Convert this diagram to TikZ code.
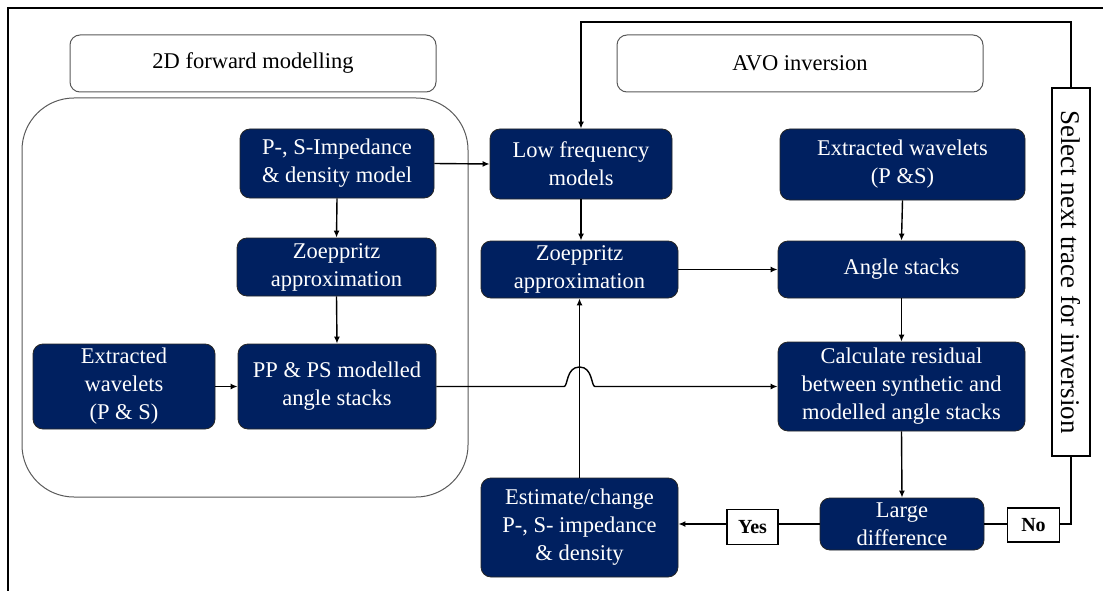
\documentclass[tikz,border=0pt]{standalone}
\usepackage{fontspec}
\setmainfont{Liberation Serif}
\usetikzlibrary{arrows.meta}
\definecolor{navy}{RGB}{0,32,96}
\begin{document}
\begin{tikzpicture}[x=1pt,y=-1pt,
  bx/.style={draw=black!85,line width=0.8pt,fill=navy,rounded corners=10pt,text=white,align=center,inner sep=0pt,font=\fontsize{22.5}{28}\selectfont},
  ttl/.style={draw=black!65,line width=1pt,rounded corners=10pt,align=center,inner sep=0pt,font=\fontsize{22.5}{28}\selectfont,minimum width=366pt,minimum height=57pt},
  lbl/.style={draw=black,line width=1.6pt,fill=white,inner sep=0pt,font=\bfseries\fontsize{20}{24}\selectfont},
  conn/.style={line width=1.4pt},
  arr/.style={conn,-{Latex[length=7pt,width=6pt]}}
]
\useasboundingbox (0,0) rectangle (1103,591);
% outer frame
\draw[line width=2.5pt] (8,591) -- (8,8) -- (1103,8);
% titles
\node[ttl] (t1) at (253,63.5) {2D forward modelling};
\node[ttl] (t2) at (800,63.5) {AVO inversion};
% forward modelling group
\draw[draw=black!65,line width=1pt,rounded corners=52pt] (22,98) rectangle (468,497);
% nodes
\node[bx,minimum width=194pt,minimum height=69pt] (pimp) at (337,163.5) {P-, S-Impedance\\ \& density model};
\node[bx,minimum width=199pt,minimum height=58pt] (zoeL) at (336.5,267) {Zoeppritz\\ approximation};
\node[bx,minimum width=182pt,minimum height=85pt] (extL) at (124,386.5) {Extracted\\ wavelets\\ (P \& S)};
\node[bx,minimum width=198pt,minimum height=85pt] (ppps) at (337,386.5) {PP \& PS modelled\\ angle stacks};
\node[bx,minimum width=182pt,minimum height=70pt] (lowf) at (581,164) {Low frequency\\ models};
\node[bx,minimum width=197pt,minimum height=57pt] (zoeM) at (579.5,269.5) {Zoeppritz\\ approximation};
\node[bx,minimum width=245pt,minimum height=71pt] (extR) at (902.5,164.5) {Extracted wavelets\\ (P \&S)};
\node[bx,minimum width=247pt,minimum height=57pt] (angle) at (901.5,269.5) {Angle stacks};
\node[bx,minimum width=247pt,minimum height=89pt] (calc) at (901.5,386.5) {Calculate residual\\ between synthetic and\\ modelled angle stacks};
\node[bx,minimum width=164pt,minimum height=52pt] (large) at (902,524) {Large\\ difference};
\node[bx,minimum width=197pt,minimum height=99pt] (est) at (579.5,527.5) {Estimate/change\\ P-, S- impedance\\ \& density};
\node[lbl,minimum width=51pt,minimum height=35pt] (yes) at (752.5,527) {Yes};
\node[lbl,minimum width=52pt,minimum height=34pt] (no) at (1033.5,525) {No};
\node[draw=black,line width=1.4pt,fill=white,rotate=-90,minimum width=368pt,minimum height=38pt,inner sep=0pt,font=\fontsize{27}{30}\selectfont] (sel) at (1071,272) {Select next trace for inversion};
\coordinate (topR) at (1071,22);
% connectors
\draw[arr] (pimp.east) -- (lowf.west);
\draw[arr] (pimp.south) -- (zoeL.north);
\draw[arr] (zoeL.south) -- (ppps.north);
\draw[arr] (extL.east) -- (ppps.west);
\draw[arr] (ppps.east) -- (564,386.5) .. controls (568,386.5) and (566,367) .. (579.5,367) .. controls (593,367) and (591,386.5) .. (595,386.5) -- (calc.west);
\draw[arr] (est.north) -- (zoeM.south);
\draw[arr] (lowf.south) -- (lowf.south |- zoeM.north);
\draw[arr] (zoeM.east) -- (angle.west);
\draw[arr] (extR.south) -- (angle.north);
\draw[arr] (angle.south) -- (calc.north);
\draw[arr] (calc.south) -- (large.north);
\draw[conn] (large.west) -- (large.west -| yes.east);
\draw[arr] (large.west -| yes.west) -- (large.west -| est.east);
\draw[conn] (large.east) -- (large.east -| no.west);
\draw[conn] (large.east -| no.east) -| (sel.east);
\draw[arr] (sel.west) -- (topR) -| (lowf.north);
\end{tikzpicture}
\end{document}
